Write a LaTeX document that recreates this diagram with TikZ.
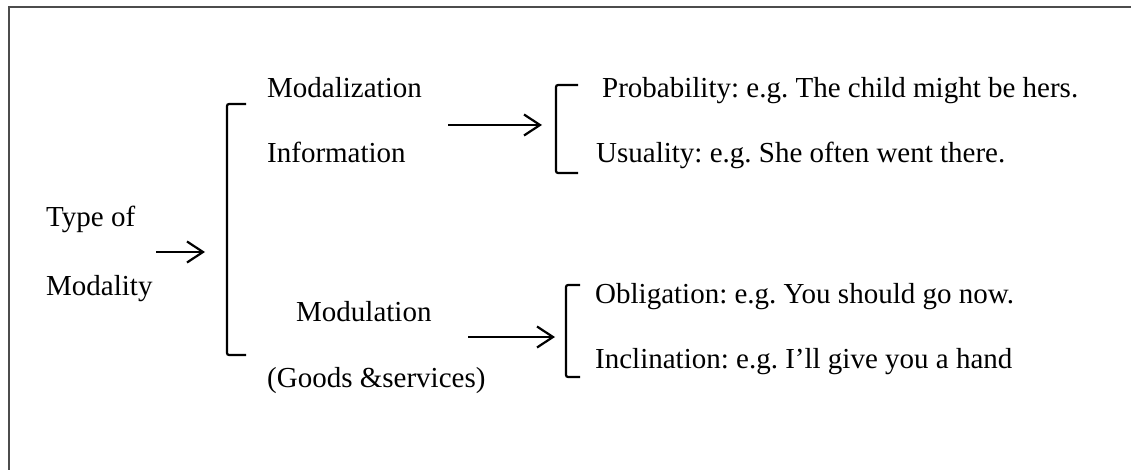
\documentclass[tikz,border=0pt]{standalone}
\usepackage{fontspec}
\setmainfont{Liberation Serif}
\usetikzlibrary{arrows.meta}
\frenchspacing
\tikzset{
  txt/.style={anchor=base west, inner sep=0pt, font=\fontsize{29}{34}\selectfont},
  brack/.style={line width=2.2pt, rounded corners=2pt},
  arr/.style={line width=2.2pt, -{Straight Barb[length=16pt,width=21pt,line width=2.2pt]}}
}
\newcommand{\sqbracket}[4]{
\draw[brack] (#1+#4,#2) -| (#1,#3) -- ++(#4,0);
}

\begin{document}
\begin{tikzpicture}[x=1pt,y=-1pt]
      \useasboundingbox (0,0) rectangle (1131,470);
      \clip (0,0) rectangle (1131,470);
      \fill[white] (0,0) rectangle (1131,470);
      \draw[line width=2.4pt, black!70] (9,7) rectangle (1145,485);
      \node[txt] (type) at (46,227) {Type of};
      \node[txt] (modality) at (46,295) {Modality};
      \node[txt] (modal) at (267,98) {Modalization};
      \node[txt] (info) at (267,163) {Information};
      \node[txt] (modul) at (296,321) {Modulation};
      \node[txt] (goods) at (267,387) {(Goods \&services)};
      \node[txt] (prob) at (602,98) {Probability: e.g. The child might be hers.};
      \node[txt] (usual) at (596,163) {Usuality: e.g. She often went there.};
      \node[txt] (oblig) at (595,303) {Obligation: e.g. You should go now.};
      \node[txt] (incl) at (595,368) {Inclination: e.g. I’ll give you a hand};
      \sqbracket{227}{104}{355}{19}
      \sqbracket{556}{85}{173}{22}
      \sqbracket{566}{285}{377}{14}
      \coordinate (s1) at (156,252);
      \coordinate (e1) at (205,252);
      \coordinate (s2) at (448,125);
      \coordinate (e2) at (542,125);
      \coordinate (s3) at (468,337);
      \coordinate (e3) at (555,337);
      \draw[arr] (s1) -- (e1);
      \draw[arr] (s2) -- (e2);
      \draw[arr] (s3) -- (e3);
    \end{tikzpicture}
\end{document}
